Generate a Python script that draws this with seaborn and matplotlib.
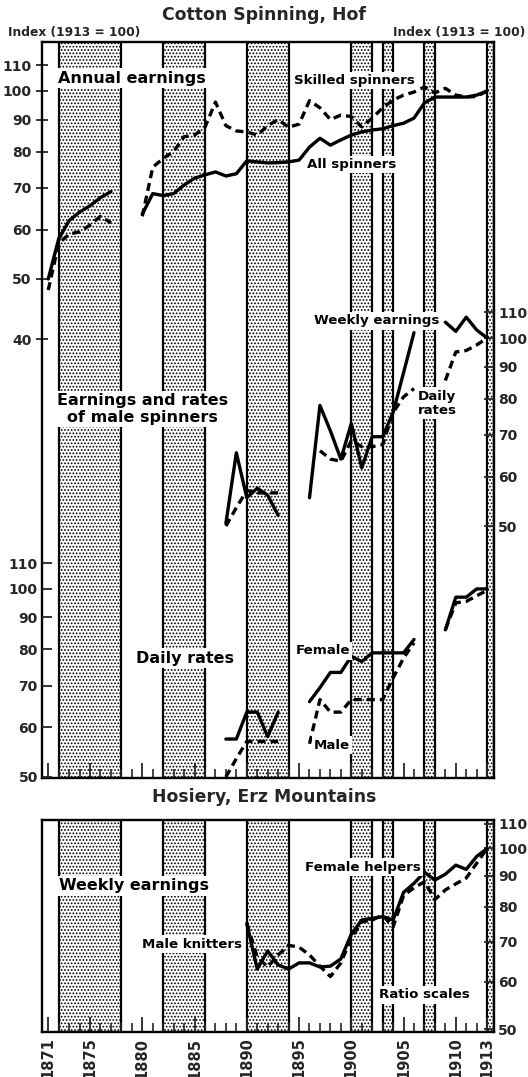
import numpy as np
import pandas as pd
import matplotlib
matplotlib.use('Agg')
import matplotlib.pyplot as plt
import seaborn as sns
from matplotlib.ticker import NullLocator

sns.set_style('white')
plt.rcParams['font.family'] = ['DejaVu Sans']
plt.rcParams['hatch.linewidth'] = 0.8

# ---------------- data ----------------
annual_years = list(range(1871, 1914))
skilled_spinners = [48, 57, 59, 59.5, 61, 63, 61.5, None, None,
                    63, 75.5, 78, 80, 84.5, 85, 87.5, 96, 88, 86.3,
                    86, 85, 88, 90, 87.5, 88.5, 96.5, 94, 90, 91.5,
                    91, 87.6, 90.5, 94, 96.7, 98.5, 99.6, 101.5, 99.3, 101,
                    98.5, 97.8, 98, 100]
all_spinners = [50, 58, 62, 64, 65.5, 67.5, 69, None, None,
                63.5, 68.5, 68, 68.5, 70.7, 72.5, 73.4, 74.2, 73.1, 73.7,
                77.3, 77, 76.7, 76.8, 77, 77.5, 81.3, 84, 81.9, 83.5,
                85, 86, 86.6, 87, 88, 88.8, 90.5, 95.7, 97.8, 97.8,
                97.8, 97.8, 98.5, 100]

male_years = list(range(1888, 1914))
weekly_earnings = [50.5, 65.5, 55.5, 57.5, 56, 52, None, None,
                   55.5, 78, 71, 64, 73, 62, 69.5, 69.5, 76, 88, 102,
                   None, None, 106, 102.5, 108, 103, 100]
daily_rates_spinners = [50, 53.5, 57, 56.5, 56.5, 56.5, None, None,
                        None, 66, 64, 63.5, 68.5, 67, 67, 67.5, 76, 80.5, 83,
                        None, None, 85.5, 95, 95.5, 97.5, 100]
daily_female = [57.5, 57.5, 63.5, 63.5, 58, 63.5, None, None,
                66, 69.5, 73.5, 73.5, 78, 76.5, 79, 79, 79, 79, 83,
                None, None, 86, 97, 97, 100, 100]
daily_male = [50, 53.5, 57, 57, 57, 57, None, None,
              56.5, 66.5, 63.5, 63.5, 66.5, 66.5, 66.5, 66.5, 72, 77.5, 82,
              None, None, 86, 95, 95.5, 97.5, 99.5]

hosiery_years = list(range(1890, 1914))
female_helpers = [75, 63, 67.5, 64, 63, 64.5, 64.5, 63.5, 63.7, 65.5,
                  72, 76, 76.5, 77, 76, 84.5, 87.5, 91.3, 88.6, 90.6,
                  93.8, 92.3, 97, 100]
male_knitters = [75, 66, 63.5, 66.5, 69, 68.5, 66.5, 63.7, 61.2, 64.5,
                 71, 75.5, 76, 77.5, 74, 83.5, 86, 88, 82.2, 85.3,
                 87.3, 89.3, 94.5, 100]

recessions = [(1872, 1878), (1882, 1886), (1890, 1894), (1900, 1902),
              (1903, 1904), (1907, 1908), (1913, 1913.65)]
year_ticks = [1871, 1875, 1880, 1885, 1890, 1895, 1900, 1905, 1910, 1913]
annual_ticks = [40, 50, 60, 70, 80, 90, 100, 110]
rate_ticks = [50, 60, 70, 80, 90, 100, 110]

# ---------------- helpers ----------------
SOLID = '-'
DASHED = (0, (2.4, 1.5))


def segments(years, values):
    d = pd.DataFrame({'year': years, 'value': pd.Series(values, dtype='float')})
    d['seg'] = d['value'].isna().cumsum()
    return d.dropna()


def draw(ax, years, values, ls):
    d = segments(years, values)
    sns.lineplot(data=d, x='year', y='value', units='seg', estimator=None,
                 ax=ax, color='black', lw=2.4, linestyle=ls,
                 solid_joinstyle='round', solid_capstyle='round',
                 dash_capstyle='butt', sort=False)
    ax.set_xlabel('')
    ax.set_ylabel('')


def bands(ax):
    for a, b in recessions:
        ax.axvspan(a, b, facecolor='white', edgecolor='black', hatch='.....',
                   linewidth=1.6, zorder=0.5)


def xaxis_style(ax, labels):
    ax.set_xticks(year_ticks)
    ax.set_xticks(list(range(1871, 1914)), minor=True)
    if labels:
        ax.set_xticklabels([str(y) for y in year_ticks], rotation=90,
                           fontsize=10.5, fontweight='bold')
    else:
        ax.set_xticklabels([])
    ax.tick_params(axis='x', which='major', direction='in', length=11,
                   width=1.3, bottom=True, top=False, pad=4)
    ax.tick_params(axis='x', which='minor', direction='in', length=6.5,
                   width=1.2, bottom=True, top=False)


def yaxis_style(ax, ticks, side, direction='in', length=7):
    ax.set_yscale('log')
    ax.set_yticks(ticks)
    ax.set_yticklabels([str(t) for t in ticks], fontsize=10, fontweight='bold')
    ax.yaxis.set_minor_locator(NullLocator())
    if side == 'left':
        ax.yaxis.tick_left()
    else:
        ax.yaxis.tick_right()
    ax.tick_params(axis='y', which='major', direction=direction,
                   length=length, width=1.3, pad=3)


TXT = dict(color='black', fontweight='bold', ha='center', va='center',
           bbox=dict(facecolor='white', edgecolor='none', pad=1.5), zorder=10)
BIG = 11.5
SMALL = 9.6

fig = plt.figure(figsize=(5.28, 10.77), dpi=100)

# ---------------- Cotton spinning panel ----------------
ax = fig.add_axes([0.0795, 0.2776, 0.856, 0.6834])
ax.set_yscale('log')
bands(ax)
draw(ax, annual_years, all_spinners, SOLID)
draw(ax, annual_years, skilled_spinners, DASHED)
ax.set_xlim(1870.4, 1913.65)
ax.set_ylim(7.94, 119.8)
yaxis_style(ax, annual_ticks, 'left', direction='inout', length=9)
xaxis_style(ax, False)

ax2 = ax.twinx()
ax2.set_yscale('log')
draw(ax2, male_years, weekly_earnings, SOLID)
draw(ax2, male_years, daily_rates_spinners, DASHED)
ax2.set_ylim(19.75, 297.8)
yaxis_style(ax2, rate_ticks, 'right')

ax3 = ax.twinx()
ax3.set_yscale('log')
draw(ax3, male_years, daily_female, SOLID)
draw(ax3, male_years, daily_male, DASHED)
ax3.set_ylim(49.8, 751)
yaxis_style(ax3, rate_ticks, 'left')
ax3.tick_params(axis='y', labelleft=True, labelright=False)

for a in (ax2, ax3):
    for s in a.spines.values():
        s.set_visible(False)
for s in ax.spines.values():
    s.set_visible(True)
    s.set_linewidth(1.7)
    s.set_color('black')
ax.set_xlim(1870.4, 1913.65)

T = ax3.transAxes
ax3.text(0.199, 0.951, 'Annual earnings', fontsize=BIG, transform=T, **TXT)
ax3.text(0.692, 0.948, 'Skilled spinners', fontsize=SMALL, transform=T, **TXT)
ax3.text(0.686, 0.834, 'All spinners', fontsize=SMALL, transform=T, **TXT)
ax3.text(0.741, 0.621, 'Weekly earnings', fontsize=SMALL, transform=T, **TXT)
ax3.text(0.223, 0.501, 'Earnings and rates\nof male spinners', fontsize=BIG,
         linespacing=1.15, transform=T, **TXT)
ax3.text(0.874, 0.5095, 'Daily\nrates', fontsize=SMALL, linespacing=1.1,
         transform=T, **TXT)
ax3.text(0.316, 0.163, 'Daily rates', fontsize=BIG, transform=T, **TXT)
ax3.text(0.622, 0.1726, 'Female', fontsize=SMALL, transform=T, **TXT)
ax3.text(0.642, 0.0448, 'Male', fontsize=SMALL, transform=T, **TXT)

fig.text(0.5, 0.986, 'Cotton Spinning, Hof', ha='center', va='center',
         fontsize=12.4, fontweight='bold')
fig.text(0.015, 0.970, 'Index (1913 = 100)', ha='left', va='center',
         fontsize=8.8, fontweight='bold')
fig.text(0.744, 0.970, 'Index (1913 = 100)', ha='left', va='center',
         fontsize=8.8, fontweight='bold')

# ---------------- Hosiery panel ----------------
axh = fig.add_axes([0.0795, 0.0418, 0.856, 0.1968])
axh.set_yscale('log')
bands(axh)
draw(axh, hosiery_years, female_helpers, SOLID)
draw(axh, hosiery_years, male_knitters, DASHED)
axh.set_xlim(1870.4, 1913.65)
axh.set_ylim(49.5, 111.5)
yaxis_style(axh, rate_ticks, 'right')
xaxis_style(axh, True)
for s in axh.spines.values():
    s.set_visible(True)
    s.set_linewidth(1.7)
    s.set_color('black')

Th = axh.transAxes
axh.text(0.2047, 0.689, 'Weekly earnings', fontsize=BIG, transform=Th, **TXT)
axh.text(0.331, 0.415, 'Male knitters', fontsize=SMALL, transform=Th, **TXT)
axh.text(0.710, 0.778, 'Female helpers', fontsize=SMALL, transform=Th, **TXT)
axh.text(0.846, 0.175, 'Ratio scales', fontsize=SMALL, transform=Th, **TXT)

fig.text(0.5, 0.26, 'Hosiery, Erz Mountains', ha='center', va='center',
         fontsize=12.4, fontweight='bold')

fig.savefig('out.png', dpi=100)
